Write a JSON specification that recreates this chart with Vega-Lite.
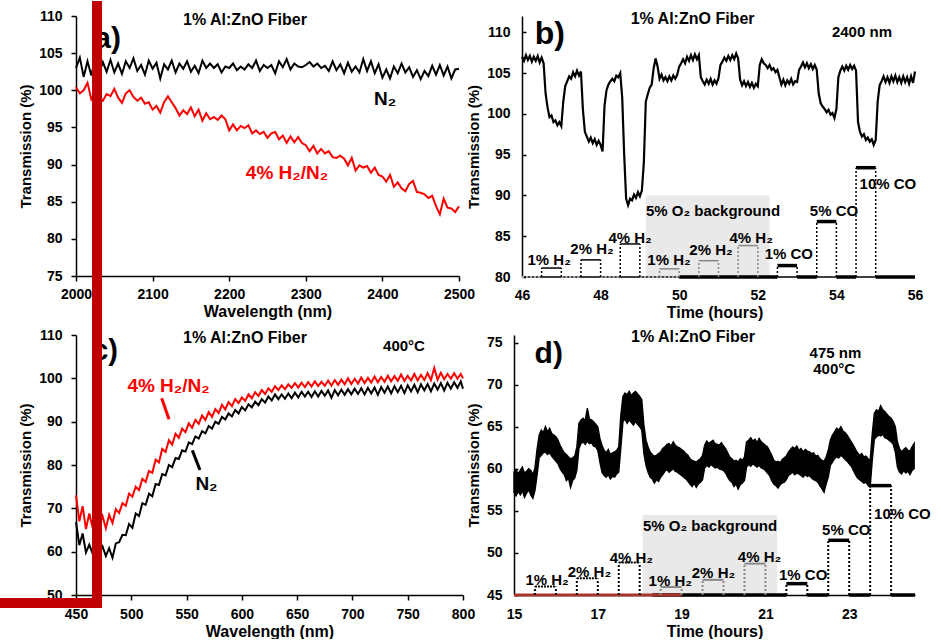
{
"$schema":"https://vega.github.io/schema/vega-lite/v6.json",
"background":"white",
"padding":0,
"columns":2,
"align":"each",
"bounds":"flush",
"spacing":{"row":58,"column":51},
"config":{
 "view":{"stroke":null},
 "font":"Liberation Sans",
 "axis":{"grid":false,"domainColor":"#000","domainWidth":1.5,"tickColor":"#000","tickWidth":1.5,"labelColor":"#000","labelFont":"Liberation Sans","labelFontSize":14,"labelFontWeight":"bold","titleColor":"#000","titleFont":"Liberation Sans","titleFontSize":15,"titleFontWeight":"bold","labelFlush":false,"labelOverlap":false},
 "text":{"font":"Liberation Sans","fontWeight":"bold","color":"#000"}
},
"datasets":{
"da":[
{"w":2000,"n":103.0,"h":100.4},{"w":2005,"n":104.4,"h":99.6},{"w":2010,"n":101.8,"h":100.0},{"w":2015,"n":103.9,"h":101.0},{"w":2020,"n":102.0,"h":98.8},{"w":2025,"n":104.2,"h":99.8},{"w":2030,"n":102.3,"h":99.0},{"w":2035,"n":103.8,"h":98.6},{"w":2040,"n":102.5,"h":99.5},{"w":2045,"n":104.1,"h":99.2},
{"w":2050,"n":102.4,"h":100.2},{"w":2055,"n":103.6,"h":99.0},{"w":2060,"n":102.2,"h":98.3},{"w":2065,"n":103.9,"h":99.6},{"w":2070,"n":103.0,"h":100.0},{"w":2075,"n":104.3,"h":99.1},{"w":2080,"n":102.6,"h":98.6},{"w":2085,"n":103.4,"h":99.0},{"w":2090,"n":102.1,"h":98.2},{"w":2095,"n":104.0,"h":98.4},
{"w":2100,"n":102.9,"h":97.4},{"w":2105,"n":103.7,"h":97.9},{"w":2110,"n":101.6,"h":97.0},{"w":2115,"n":103.5,"h":98.4},{"w":2120,"n":102.8,"h":99.2},{"w":2125,"n":104.0,"h":98.4},{"w":2130,"n":102.4,"h":97.6},{"w":2135,"n":103.6,"h":96.6},{"w":2140,"n":102.9,"h":97.3},{"w":2145,"n":103.9,"h":96.8},
{"w":2150,"n":102.5,"h":97.7},{"w":2155,"n":103.3,"h":96.5},{"w":2160,"n":102.3,"h":97.4},{"w":2165,"n":104.0,"h":95.9},{"w":2170,"n":103.0,"h":96.9},{"w":2175,"n":103.6,"h":96.1},{"w":2180,"n":103.0,"h":96.4},{"w":2185,"n":103.5,"h":96.0},{"w":2190,"n":102.4,"h":96.6},{"w":2195,"n":103.2,"h":96.1},
{"w":2200,"n":103.0,"h":94.6},{"w":2205,"n":103.6,"h":95.4},{"w":2210,"n":102.7,"h":94.6},{"w":2215,"n":103.2,"h":95.2},{"w":2220,"n":102.8,"h":94.9},{"w":2225,"n":103.5,"h":95.3},{"w":2230,"n":103.0,"h":94.2},{"w":2235,"n":104.0,"h":94.6},{"w":2240,"n":102.6,"h":94.1},{"w":2245,"n":103.4,"h":94.4},
{"w":2250,"n":103.0,"h":93.6},{"w":2255,"n":103.4,"h":94.2},{"w":2260,"n":102.3,"h":94.4},{"w":2265,"n":103.9,"h":93.4},{"w":2270,"n":103.1,"h":93.9},{"w":2275,"n":104.2,"h":92.9},{"w":2280,"n":102.8,"h":93.8},{"w":2285,"n":103.6,"h":93.0},{"w":2290,"n":103.2,"h":93.7},{"w":2295,"n":103.1,"h":92.9},
{"w":2300,"n":103.4,"h":92.6},{"w":2305,"n":103.8,"h":91.8},{"w":2310,"n":103.2,"h":92.5},{"w":2315,"n":103.6,"h":91.5},{"w":2320,"n":103.0,"h":92.1},{"w":2325,"n":103.3,"h":91.5},{"w":2330,"n":102.6,"h":91.8},{"w":2335,"n":103.9,"h":91.0},{"w":2340,"n":102.7,"h":90.9},{"w":2345,"n":103.5,"h":91.2},
{"w":2350,"n":102.3,"h":90.8},{"w":2355,"n":103.7,"h":89.9},{"w":2360,"n":102.5,"h":90.9},{"w":2365,"n":103.2,"h":89.2},{"w":2370,"n":102.4,"h":89.9},{"w":2375,"n":104.2,"h":89.6},{"w":2380,"n":102.6,"h":89.8},{"w":2385,"n":103.9,"h":88.9},{"w":2390,"n":102.3,"h":89.6},{"w":2395,"n":103.5,"h":88.6},
{"w":2400,"n":101.7,"h":88.4},{"w":2405,"n":102.8,"h":87.7},{"w":2410,"n":101.6,"h":88.6},{"w":2415,"n":103.2,"h":87.0},{"w":2420,"n":102.3,"h":87.6},{"w":2425,"n":103.6,"h":86.8},{"w":2430,"n":102.4,"h":86.4},{"w":2435,"n":103.1,"h":87.4},{"w":2440,"n":101.8,"h":87.8},{"w":2445,"n":102.7,"h":86.3},
{"w":2450,"n":101.5,"h":86.2},{"w":2455,"n":102.6,"h":86.0},{"w":2460,"n":101.9,"h":85.5},{"w":2465,"n":103.3,"h":85.8},{"w":2470,"n":102.1,"h":84.4},{"w":2475,"n":103.4,"h":83.3},{"w":2480,"n":102.0,"h":85.4},{"w":2485,"n":103.2,"h":84.2},{"w":2490,"n":101.6,"h":84.1},{"w":2495,"n":102.8,"h":83.6},{"w":2500,"n":102.9,"h":84.4}
],
"db":[
{"t":46.00,"v":107.0},{"t":46.05,"v":106.5},{"t":46.10,"v":107.2},{"t":46.15,"v":106.6},{"t":46.20,"v":107.1},{"t":46.25,"v":106.4},{"t":46.30,"v":107.0},{"t":46.35,"v":106.5},{"t":46.40,"v":107.1},{"t":46.45,"v":106.3},
{"t":46.50,"v":106.9},{"t":46.55,"v":106.2},{"t":46.60,"v":102.5},{"t":46.65,"v":100.8},{"t":46.70,"v":99.6},{"t":46.75,"v":99.8},{"t":46.80,"v":99.0},{"t":46.85,"v":99.2},{"t":46.90,"v":98.6},{"t":46.95,"v":99.0},
{"t":47.00,"v":98.5},{"t":47.05,"v":101.5},{"t":47.10,"v":103.4},{"t":47.15,"v":104.0},{"t":47.20,"v":104.6},{"t":47.25,"v":104.3},{"t":47.30,"v":105.1},{"t":47.35,"v":104.6},{"t":47.40,"v":105.3},{"t":47.45,"v":104.7},
{"t":47.50,"v":105.2},{"t":47.55,"v":100.5},{"t":47.60,"v":97.8},{"t":47.65,"v":97.2},{"t":47.70,"v":96.6},{"t":47.75,"v":97.1},{"t":47.80,"v":96.4},{"t":47.85,"v":96.9},{"t":47.90,"v":96.2},{"t":47.95,"v":96.7},
{"t":48.00,"v":96.2},{"t":48.05,"v":95.4},{"t":48.10,"v":101.0},{"t":48.15,"v":102.9},{"t":48.20,"v":103.6},{"t":48.25,"v":104.0},{"t":48.30,"v":104.3},{"t":48.35,"v":104.0},{"t":48.40,"v":104.7},{"t":48.45,"v":104.5},
{"t":48.50,"v":105.0},{"t":48.55,"v":102.0},{"t":48.60,"v":95.0},{"t":48.65,"v":89.6},{"t":48.70,"v":88.8},{"t":48.75,"v":89.6},{"t":48.80,"v":89.4},{"t":48.85,"v":90.1},{"t":48.90,"v":89.7},{"t":48.95,"v":90.4},
{"t":49.00,"v":89.9},{"t":49.05,"v":90.6},{"t":49.10,"v":94.0},{"t":49.15,"v":101.5},{"t":49.20,"v":102.4},{"t":49.25,"v":103.2},{"t":49.30,"v":103.6},{"t":49.35,"v":105.6},{"t":49.40,"v":106.8},{"t":49.45,"v":105.8},
{"t":49.50,"v":104.3},{"t":49.55,"v":104.8},{"t":49.60,"v":104.1},{"t":49.65,"v":104.5},{"t":49.70,"v":104.0},{"t":49.75,"v":104.6},{"t":49.80,"v":104.1},{"t":49.85,"v":104.7},{"t":49.90,"v":104.3},{"t":49.95,"v":104.8},
{"t":50.00,"v":105.8},{"t":50.05,"v":106.2},{"t":50.10,"v":106.7},{"t":50.15,"v":106.2},{"t":50.20,"v":107.0},{"t":50.25,"v":106.5},{"t":50.30,"v":107.2},{"t":50.35,"v":106.6},{"t":50.40,"v":107.3},{"t":50.45,"v":106.7},
{"t":50.50,"v":107.2},{"t":50.55,"v":104.5},{"t":50.60,"v":104.0},{"t":50.65,"v":103.6},{"t":50.70,"v":104.2},{"t":50.75,"v":103.7},{"t":50.80,"v":104.3},{"t":50.85,"v":103.6},{"t":50.90,"v":104.1},{"t":50.95,"v":103.7},
{"t":51.00,"v":104.4},{"t":51.05,"v":106.0},{"t":51.10,"v":106.4},{"t":51.15,"v":106.9},{"t":51.20,"v":106.5},{"t":51.25,"v":107.1},{"t":51.30,"v":106.6},{"t":51.35,"v":107.2},{"t":51.40,"v":106.7},{"t":51.45,"v":107.4},
{"t":51.50,"v":106.8},{"t":51.55,"v":104.2},{"t":51.60,"v":103.5},{"t":51.65,"v":104.0},{"t":51.70,"v":103.4},{"t":51.75,"v":103.9},{"t":51.80,"v":103.3},{"t":51.85,"v":103.8},{"t":51.90,"v":103.2},{"t":51.95,"v":103.7},
{"t":52.00,"v":103.4},{"t":52.05,"v":106.0},{"t":52.10,"v":106.7},{"t":52.15,"v":106.2},{"t":52.20,"v":106.0},{"t":52.25,"v":105.6},{"t":52.30,"v":106.0},{"t":52.35,"v":105.4},{"t":52.40,"v":105.6},{"t":52.45,"v":105.1},
{"t":52.50,"v":105.4},{"t":52.55,"v":104.5},{"t":52.60,"v":103.6},{"t":52.65,"v":104.2},{"t":52.70,"v":103.5},{"t":52.75,"v":104.1},{"t":52.80,"v":103.7},{"t":52.85,"v":104.3},{"t":52.90,"v":103.6},{"t":52.95,"v":104.0},
{"t":53.00,"v":103.9},{"t":53.05,"v":105.4},{"t":53.10,"v":105.8},{"t":53.15,"v":106.3},{"t":53.20,"v":105.7},{"t":53.25,"v":106.2},{"t":53.30,"v":105.6},{"t":53.35,"v":106.1},{"t":53.40,"v":105.5},{"t":53.45,"v":106.0},
{"t":53.50,"v":105.4},{"t":53.55,"v":102.5},{"t":53.60,"v":101.3},{"t":53.65,"v":100.9},{"t":53.70,"v":100.6},{"t":53.75,"v":100.2},{"t":53.80,"v":100.5},{"t":53.85,"v":99.9},{"t":53.90,"v":100.1},{"t":53.95,"v":99.5},
{"t":54.00,"v":100.6},{"t":54.05,"v":104.5},{"t":54.10,"v":105.3},{"t":54.15,"v":105.8},{"t":54.20,"v":105.3},{"t":54.25,"v":105.9},{"t":54.30,"v":105.4},{"t":54.35,"v":106.0},{"t":54.40,"v":105.5},{"t":54.45,"v":105.9},
{"t":54.50,"v":105.3},{"t":54.55,"v":99.0},{"t":54.60,"v":97.8},{"t":54.65,"v":97.2},{"t":54.70,"v":97.5},{"t":54.75,"v":96.8},{"t":54.80,"v":97.1},{"t":54.85,"v":96.6},{"t":54.90,"v":96.9},{"t":54.95,"v":96.2},
{"t":55.00,"v":96.8},{"t":55.05,"v":101.5},{"t":55.10,"v":103.5},{"t":55.15,"v":104.0},{"t":55.20,"v":104.6},{"t":55.25,"v":103.9},{"t":55.30,"v":104.5},{"t":55.35,"v":103.8},{"t":55.40,"v":104.6},{"t":55.45,"v":104.0},
{"t":55.50,"v":104.7},{"t":55.55,"v":103.9},{"t":55.60,"v":104.5},{"t":55.65,"v":103.8},{"t":55.70,"v":104.6},{"t":55.75,"v":103.9},{"t":55.80,"v":104.5},{"t":55.85,"v":103.7},{"t":55.90,"v":104.6},{"t":55.95,"v":103.8},{"t":56.00,"v":105.2}
],
"dc":[
{"w":450,"n":66.8,"h":73.0},{"w":453,"n":61.5,"h":67.0},{"w":456,"n":64.2,"h":70.5},{"w":459,"n":59.8,"h":65.2},{"w":462,"n":61.6,"h":68.8},{"w":465,"n":59.6,"h":65.6},{"w":468,"n":62.0,"h":72.6},{"w":471,"n":59.8,"h":66.0},{"w":474,"n":61.2,"h":68.2},{"w":477,"n":59.0,"h":65.4},
{"w":480,"n":60.8,"h":68.5},{"w":483,"n":58.6,"h":66.6},{"w":486,"n":61.9,"h":69.8},{"w":489,"n":62.2,"h":68.9},{"w":492,"n":63.9,"h":71.2},{"w":495,"n":63.8,"h":70.6},{"w":498,"n":66.4,"h":73.4},{"w":501,"n":65.5,"h":72.7},{"w":504,"n":68.8,"h":75.0},{"w":507,"n":68.2,"h":74.2},
{"w":510,"n":71.2,"h":76.8},{"w":513,"n":70.8,"h":76.1},{"w":516,"n":73.4,"h":78.6},{"w":519,"n":72.8,"h":78.2},{"w":522,"n":75.6,"h":81.2},{"w":525,"n":75.4,"h":80.6},{"w":528,"n":77.9,"h":83.7},{"w":531,"n":77.6,"h":83.0},{"w":534,"n":80.0,"h":85.7},{"w":537,"n":79.5,"h":84.7},
{"w":540,"n":81.6,"h":87.2},{"w":543,"n":81.4,"h":86.3},{"w":546,"n":83.4,"h":88.4},{"w":549,"n":83.1,"h":87.6},{"w":552,"n":85.2,"h":89.6},{"w":555,"n":84.8,"h":88.6},{"w":558,"n":86.6,"h":90.4},{"w":561,"n":86.1,"h":89.5},{"w":564,"n":87.8,"h":91.4},{"w":567,"n":87.3,"h":90.4},
{"w":570,"n":89.0,"h":92.2},{"w":573,"n":88.4,"h":91.1},{"w":576,"n":90.0,"h":92.9},{"w":579,"n":89.5,"h":92.0},{"w":582,"n":91.1,"h":93.9},{"w":585,"n":90.5,"h":92.8},{"w":588,"n":91.9,"h":94.5},{"w":591,"n":91.2,"h":93.6},{"w":594,"n":92.7,"h":95.2},{"w":597,"n":91.9,"h":94.3},
{"w":600,"n":93.4,"h":95.6},{"w":603,"n":92.6,"h":94.8},{"w":606,"n":94.0,"h":96.3},{"w":609,"n":93.3,"h":95.4},{"w":612,"n":94.6,"h":96.8},{"w":615,"n":93.8,"h":95.9},{"w":618,"n":95.2,"h":97.3},{"w":621,"n":94.4,"h":96.4},{"w":624,"n":95.8,"h":97.7},{"w":627,"n":94.9,"h":96.9},
{"w":630,"n":96.3,"h":98.2},{"w":633,"n":95.2,"h":97.3},{"w":636,"n":96.3,"h":98.4},{"w":639,"n":95.3,"h":97.5},{"w":642,"n":96.5,"h":98.6},{"w":645,"n":95.4,"h":97.8},{"w":648,"n":96.7,"h":98.9},{"w":651,"n":95.6,"h":97.9},{"w":654,"n":96.9,"h":99.0},{"w":657,"n":95.8,"h":98.0},
{"w":660,"n":96.9,"h":99.1},{"w":663,"n":95.7,"h":98.1},{"w":666,"n":97.0,"h":99.3},{"w":669,"n":95.8,"h":98.2},{"w":672,"n":97.1,"h":99.2},{"w":675,"n":96.0,"h":98.3},{"w":678,"n":97.2,"h":99.5},{"w":681,"n":95.5,"h":98.3},{"w":684,"n":97.3,"h":99.6},{"w":687,"n":96.1,"h":98.5},
{"w":690,"n":97.4,"h":99.7},{"w":693,"n":96.2,"h":98.6},{"w":696,"n":97.5,"h":100.0},{"w":699,"n":96.3,"h":98.7},{"w":702,"n":97.6,"h":99.9},{"w":705,"n":96.4,"h":98.8},{"w":708,"n":97.7,"h":100.2},{"w":711,"n":96.3,"h":98.9},{"w":714,"n":97.8,"h":100.1},{"w":717,"n":96.5,"h":99.0},
{"w":720,"n":97.9,"h":100.4},{"w":723,"n":96.2,"h":99.1},{"w":726,"n":98.0,"h":100.3},{"w":729,"n":96.7,"h":99.2},{"w":732,"n":98.1,"h":100.6},{"w":735,"n":96.5,"h":99.3},{"w":738,"n":98.2,"h":100.5},{"w":741,"n":96.8,"h":99.4},{"w":744,"n":98.3,"h":100.9},{"w":747,"n":96.6,"h":99.4},
{"w":750,"n":98.4,"h":100.6},{"w":753,"n":97.0,"h":99.5},{"w":756,"n":98.5,"h":101.0},{"w":759,"n":96.8,"h":99.5},{"w":762,"n":98.6,"h":100.8},{"w":765,"n":97.2,"h":99.6},{"w":768,"n":98.7,"h":101.2},{"w":771,"n":97.0,"h":99.6},{"w":774,"n":98.8,"h":102.4},{"w":777,"n":97.4,"h":99.7},
{"w":780,"n":98.9,"h":101.3},{"w":783,"n":97.2,"h":99.8},{"w":786,"n":99.0,"h":101.0},{"w":789,"n":97.6,"h":99.9},{"w":792,"n":99.1,"h":101.2},{"w":795,"n":97.8,"h":99.9},{"w":798,"n":99.3,"h":101.0},{"w":800,"n":97.6,"h":100.0}
],
"dd":[
{"t":15.00,"lo":57.2,"hi":59.6},{"t":15.05,"lo":56.8,"hi":59.9},{"t":15.10,"lo":57.3,"hi":59.4},{"t":15.15,"lo":56.9,"hi":59.8},{"t":15.20,"lo":57.4,"hi":60.2},{"t":15.25,"lo":56.6,"hi":59.5},{"t":15.30,"lo":57.1,"hi":59.7},{"t":15.35,"lo":57.5,"hi":60.0},{"t":15.40,"lo":56.9,"hi":59.8},{"t":15.45,"lo":56.5,"hi":59.3},
{"t":15.50,"lo":57.4,"hi":60.1},{"t":15.55,"lo":59.2,"hi":62.3},{"t":15.60,"lo":61.3,"hi":64.0},{"t":15.65,"lo":61.6,"hi":64.6},{"t":15.70,"lo":61.9,"hi":64.3},{"t":15.75,"lo":62.0,"hi":65.0},{"t":15.80,"lo":61.7,"hi":64.4},{"t":15.85,"lo":61.9,"hi":64.8},{"t":15.90,"lo":61.5,"hi":64.2},{"t":15.95,"lo":61.2,"hi":64.0},
{"t":16.00,"lo":60.9,"hi":63.8},{"t":16.05,"lo":60.6,"hi":63.4},{"t":16.10,"lo":60.0,"hi":62.8},{"t":16.15,"lo":59.6,"hi":62.3},{"t":16.20,"lo":59.3,"hi":61.9},{"t":16.25,"lo":58.6,"hi":61.7},{"t":16.30,"lo":58.9,"hi":61.4},{"t":16.35,"lo":57.8,"hi":61.2},{"t":16.40,"lo":58.6,"hi":61.3},{"t":16.45,"lo":58.9,"hi":61.5},
{"t":16.50,"lo":59.8,"hi":62.6},{"t":16.55,"lo":62.4,"hi":65.4},{"t":16.60,"lo":63.0,"hi":65.8},{"t":16.65,"lo":63.2,"hi":66.0},{"t":16.70,"lo":62.9,"hi":65.7},{"t":16.75,"lo":63.3,"hi":67.2},{"t":16.80,"lo":63.0,"hi":65.9},{"t":16.85,"lo":63.1,"hi":65.8},{"t":16.90,"lo":62.7,"hi":65.6},{"t":16.95,"lo":62.6,"hi":65.3},
{"t":17.00,"lo":62.2,"hi":65.0},{"t":17.05,"lo":60.8,"hi":63.6},{"t":17.10,"lo":59.6,"hi":62.8},{"t":17.15,"lo":59.2,"hi":62.2},{"t":17.20,"lo":59.0,"hi":61.9},{"t":17.25,"lo":59.3,"hi":62.3},{"t":17.30,"lo":58.8,"hi":61.7},{"t":17.35,"lo":59.1,"hi":61.9},{"t":17.40,"lo":59.0,"hi":62.0},{"t":17.45,"lo":59.4,"hi":62.2},
{"t":17.50,"lo":59.6,"hi":62.6},{"t":17.55,"lo":62.5,"hi":66.4},{"t":17.60,"lo":65.6,"hi":68.6},{"t":17.65,"lo":65.9,"hi":69.0},{"t":17.70,"lo":65.4,"hi":68.8},{"t":17.75,"lo":65.8,"hi":69.2},{"t":17.80,"lo":65.5,"hi":68.7},{"t":17.85,"lo":65.2,"hi":69.0},{"t":17.90,"lo":65.6,"hi":69.2},{"t":17.95,"lo":65.3,"hi":68.9},
{"t":18.00,"lo":65.0,"hi":68.6},{"t":18.05,"lo":64.6,"hi":68.2},{"t":18.10,"lo":61.8,"hi":65.2},{"t":18.15,"lo":60.4,"hi":63.4},{"t":18.20,"lo":59.6,"hi":62.6},{"t":18.25,"lo":59.0,"hi":62.0},{"t":18.30,"lo":58.8,"hi":61.7},{"t":18.35,"lo":58.3,"hi":61.5},{"t":18.40,"lo":58.7,"hi":61.6},{"t":18.45,"lo":58.5,"hi":61.8},
{"t":18.50,"lo":59.0,"hi":62.0},{"t":18.55,"lo":59.3,"hi":62.4},{"t":18.60,"lo":59.7,"hi":62.6},{"t":18.65,"lo":59.9,"hi":62.9},{"t":18.70,"lo":59.6,"hi":63.0},{"t":18.75,"lo":59.8,"hi":62.7},{"t":18.80,"lo":60.0,"hi":63.2},{"t":18.85,"lo":59.7,"hi":62.8},{"t":18.90,"lo":59.6,"hi":62.6},{"t":18.95,"lo":59.4,"hi":62.5},
{"t":19.00,"lo":59.2,"hi":62.3},{"t":19.05,"lo":59.0,"hi":62.1},{"t":19.10,"lo":58.8,"hi":61.8},{"t":19.15,"lo":58.5,"hi":61.6},{"t":19.20,"lo":58.2,"hi":61.2},{"t":19.25,"lo":57.9,"hi":61.0},{"t":19.30,"lo":58.3,"hi":60.9},{"t":19.35,"lo":57.8,"hi":60.8},{"t":19.40,"lo":58.2,"hi":61.0},{"t":19.45,"lo":58.4,"hi":61.2},
{"t":19.50,"lo":58.7,"hi":61.6},{"t":19.55,"lo":60.1,"hi":62.8},{"t":19.60,"lo":60.4,"hi":63.3},{"t":19.65,"lo":60.2,"hi":63.0},{"t":19.70,"lo":60.5,"hi":63.2},{"t":19.75,"lo":60.3,"hi":63.4},{"t":19.80,"lo":60.1,"hi":63.0},{"t":19.85,"lo":60.2,"hi":62.9},{"t":19.90,"lo":60.0,"hi":62.8},{"t":19.95,"lo":59.9,"hi":63.1},
{"t":20.00,"lo":59.8,"hi":62.7},{"t":20.05,"lo":59.5,"hi":62.4},{"t":20.10,"lo":59.0,"hi":61.9},{"t":20.15,"lo":58.6,"hi":61.4},{"t":20.20,"lo":58.4,"hi":61.2},{"t":20.25,"lo":57.9,"hi":60.9},{"t":20.30,"lo":58.2,"hi":61.0},{"t":20.35,"lo":57.6,"hi":60.8},{"t":20.40,"lo":58.1,"hi":61.2},{"t":20.45,"lo":58.3,"hi":61.0},
{"t":20.50,"lo":58.6,"hi":61.4},{"t":20.55,"lo":60.2,"hi":63.2},{"t":20.60,"lo":60.5,"hi":63.4},{"t":20.65,"lo":60.3,"hi":63.7},{"t":20.70,"lo":60.6,"hi":63.3},{"t":20.75,"lo":60.4,"hi":63.5},{"t":20.80,"lo":60.2,"hi":63.1},{"t":20.85,"lo":60.4,"hi":63.6},{"t":20.90,"lo":60.1,"hi":63.2},{"t":20.95,"lo":60.0,"hi":63.0},
{"t":21.00,"lo":59.8,"hi":62.8},{"t":21.05,"lo":59.5,"hi":62.6},{"t":21.10,"lo":59.2,"hi":62.1},{"t":21.15,"lo":58.6,"hi":61.6},{"t":21.20,"lo":58.2,"hi":61.0},{"t":21.25,"lo":58.0,"hi":60.8},{"t":21.30,"lo":57.7,"hi":60.9},{"t":21.35,"lo":58.1,"hi":60.7},{"t":21.40,"lo":58.3,"hi":61.1},{"t":21.45,"lo":58.4,"hi":61.3},
{"t":21.50,"lo":58.7,"hi":61.5},{"t":21.55,"lo":59.2,"hi":62.0},{"t":21.60,"lo":59.4,"hi":62.3},{"t":21.65,"lo":59.6,"hi":62.6},{"t":21.70,"lo":59.3,"hi":62.4},{"t":21.75,"lo":59.5,"hi":62.7},{"t":21.80,"lo":59.4,"hi":62.2},{"t":21.85,"lo":59.2,"hi":62.4},{"t":21.90,"lo":59.0,"hi":62.0},{"t":21.95,"lo":59.3,"hi":62.3},
{"t":22.00,"lo":59.1,"hi":62.1},{"t":22.05,"lo":59.2,"hi":62.0},{"t":22.10,"lo":58.9,"hi":61.8},{"t":22.15,"lo":58.7,"hi":61.9},{"t":22.20,"lo":58.6,"hi":61.5},{"t":22.25,"lo":58.4,"hi":61.6},{"t":22.30,"lo":58.0,"hi":61.2},{"t":22.35,"lo":57.6,"hi":61.0},{"t":22.40,"lo":57.2,"hi":60.9},{"t":22.45,"lo":58.2,"hi":61.4},
{"t":22.50,"lo":59.0,"hi":62.2},{"t":22.55,"lo":60.4,"hi":63.4},{"t":22.60,"lo":60.8,"hi":64.0},{"t":22.65,"lo":61.2,"hi":64.4},{"t":22.70,"lo":61.4,"hi":64.8},{"t":22.75,"lo":61.3,"hi":64.6},{"t":22.80,"lo":61.6,"hi":65.0},{"t":22.85,"lo":61.4,"hi":64.5},{"t":22.90,"lo":61.1,"hi":64.3},{"t":22.95,"lo":60.9,"hi":64.0},
{"t":23.00,"lo":60.6,"hi":63.6},{"t":23.05,"lo":60.3,"hi":63.2},{"t":23.10,"lo":59.8,"hi":62.8},{"t":23.15,"lo":59.3,"hi":62.3},{"t":23.20,"lo":58.9,"hi":61.9},{"t":23.25,"lo":58.7,"hi":61.6},{"t":23.30,"lo":58.5,"hi":61.8},{"t":23.35,"lo":58.3,"hi":61.4},{"t":23.40,"lo":58.4,"hi":61.5},{"t":23.45,"lo":58.0,"hi":61.2},
{"t":23.50,"lo":57.8,"hi":61.0},{"t":23.55,"lo":61.0,"hi":64.2},{"t":23.60,"lo":63.5,"hi":66.6},{"t":23.65,"lo":63.8,"hi":67.0},{"t":23.70,"lo":64.0,"hi":66.8},{"t":23.75,"lo":63.9,"hi":67.5},{"t":23.80,"lo":64.1,"hi":67.0},{"t":23.85,"lo":63.7,"hi":66.8},{"t":23.90,"lo":63.6,"hi":66.5},{"t":23.95,"lo":63.4,"hi":66.2},
{"t":24.00,"lo":63.2,"hi":66.0},{"t":24.05,"lo":62.9,"hi":65.6},{"t":24.10,"lo":62.0,"hi":65.0},{"t":24.15,"lo":60.2,"hi":63.2},{"t":24.20,"lo":59.6,"hi":62.4},{"t":24.25,"lo":59.4,"hi":62.0},{"t":24.30,"lo":59.8,"hi":62.3},{"t":24.35,"lo":59.5,"hi":62.5},{"t":24.40,"lo":59.7,"hi":62.2},{"t":24.45,"lo":59.3,"hi":62.1},{"t":24.50,"lo":59.8,"hi":62.6},{"t":24.55,"lo":60.0,"hi":63.0}
]
},
"concat":[
{"width":383,"height":260,"layer":[
 {"data":{"name":"da"},"mark":{"type":"line","color":"#000","strokeWidth":2},
  "encoding":{
   "x":{"field":"w","type":"quantitative","scale":{"domain":[2000,2500],"nice":false,"zero":false},"axis":{"title":"Wavelength (nm)","values":[2000,2100,2200,2300,2400,2500],"format":"d","tickSize":5,"labelPadding":6,"titlePadding":2,"titleFontSize":16,"labelOverlap":false}},
   "y":{"field":"n","type":"quantitative","scale":{"domain":[75,110],"nice":false,"zero":false},"axis":{"title":"Transmission (%)","values":[75,80,85,90,95,100,105,110],"format":"d","tickSize":5,"labelPadding":9,"titlePadding":5,"labelOverlap":false,"tickCount":20}}}},
 {"data":{"name":"da"},"mark":{"type":"line","color":"#ff0000","strokeWidth":2},"encoding":{"x":{"field":"w","type":"quantitative"},"y":{"field":"h","type":"quantitative"}}},
 {"data":{"values":[{"x":2220.6,"y":109.46,"t":"1% Al:ZnO Fiber"}]},"mark":{"type":"text","fontSize":16,"baseline":"middle"},"encoding":{"x":{"field":"x","type":"quantitative"},"y":{"field":"y","type":"quantitative"},"text":{"field":"t"}}},
 {"data":{"values":[{"x":2403.4,"y":98.8,"t":"N₂"}]},"mark":{"type":"text","fontSize":19,"baseline":"middle"},"encoding":{"x":{"field":"x","type":"quantitative"},"y":{"field":"y","type":"quantitative"},"text":{"field":"t"}}},
 {"data":{"values":[{"x":2275.5,"y":88.9,"t":"4% H₂/N₂"}]},"mark":{"type":"text","fontSize":19,"baseline":"middle","color":"#ff0000"},"encoding":{"x":{"field":"x","type":"quantitative"},"y":{"field":"y","type":"quantitative"},"text":{"field":"t"}}},
 {"data":{"values":[{"x":2041.4,"y":105.73,"t":"a)"}]},"mark":{"type":"text","fontSize":30,"baseline":"alphabetic"},"encoding":{"x":{"field":"x","type":"quantitative"},"y":{"field":"y","type":"quantitative"},"text":{"field":"t"}}}
]},
{"width":401,"height":261,"layer":[
 {"data":{"values":[{"x":49.15,"x2":52.3,"y":80,"y2":90}]},"mark":{"type":"rect","color":"#e9e9e9"},
  "encoding":{
   "x":{"field":"x","type":"quantitative","scale":{"domain":[45.7964,56],"nice":false,"zero":false},"axis":{"title":"Time (hours)","values":[46,48,50,52,54,56],"format":"d","domain":false,"ticks":false,"labelPadding":11,"titlePadding":2,"titleFontSize":16,"labelOverlap":false}},
   "x2":{"field":"x2"},
   "y":{"field":"y","type":"quantitative","scale":{"domain":[80,112],"nice":false,"zero":false},"axis":{"title":"Transmission (%)","values":[80,85,90,95,100,105,110],"format":"d","offset":-8,"tickSize":-4,"labelPadding":16,"titlePadding":5,"labelOverlap":false}},
   "y2":{"field":"y2"}}},
 {"data":{"values":[{"x":46,"x2":56,"y":80}]},"mark":{"type":"rule","color":"#000","strokeWidth":1.5},"encoding":{"x":{"field":"x","type":"quantitative"},"x2":{"field":"x2"},"y":{"field":"y","type":"quantitative"}}},
 {"data":{"name":"db"},"mark":{"type":"line","color":"#000","strokeWidth":2.2},"encoding":{"x":{"field":"t","type":"quantitative"},"y":{"field":"v","type":"quantitative"}}},
 {"data":{"values":[{"x":46,"x2":46.5,"y":80},{"x":47,"x2":47.5,"y":80},{"x":48,"x2":48.5,"y":80},{"x":49,"x2":50,"y":80}]},"mark":{"type":"rule","color":"#aaaaaa","strokeWidth":2,"strokeDash":[2,2]},"encoding":{"x":{"field":"x","type":"quantitative"},"x2":{"field":"x2"},"y":{"field":"y","type":"quantitative"}}},
 {"data":{"values":[{"x":46.5,"x2":47.0,"y":81.1},{"x":47.5,"x2":48.0,"y":82.1},{"x":48.5,"x2":49.0,"y":84.05}]},"mark":{"type":"rule","color":"#000","strokeWidth":1.5},"encoding":{"x":{"field":"x","type":"quantitative"},"x2":{"field":"x2"},"y":{"field":"y","type":"quantitative"}}},
 {"data":{"values":[{"x":49.5,"x2":50.0,"y":81.0},{"x":50.5,"x2":51.0,"y":82.0},{"x":51.5,"x2":52.0,"y":83.85}]},"mark":{"type":"rule","color":"#888888","strokeWidth":1.5},"encoding":{"x":{"field":"x","type":"quantitative"},"x2":{"field":"x2"},"y":{"field":"y","type":"quantitative"}}},
 {"data":{"values":[{"x":50.0,"x2":52.5,"y":80},{"x":52.5,"x2":53.0,"y":81.4},{"x":53.0,"x2":53.5,"y":80},{"x":53.5,"x2":54.0,"y":86.8},{"x":54.0,"x2":54.5,"y":80},{"x":54.5,"x2":55.0,"y":93.4},{"x":55.0,"x2":56.0,"y":80}]},"mark":{"type":"rule","color":"#000","strokeWidth":3.5},"encoding":{"x":{"field":"x","type":"quantitative"},"x2":{"field":"x2"},"y":{"field":"y","type":"quantitative"}}},
 {"data":{"values":[{"x":46.5,"y":80,"y2":81.1},{"x":47.0,"y":80,"y2":81.1},{"x":47.5,"y":80,"y2":82.1},{"x":48.0,"y":80,"y2":82.1},{"x":48.5,"y":80,"y2":84.05},{"x":49.0,"y":80,"y2":84.05},{"x":52.5,"y":80,"y2":81.4},{"x":53.0,"y":80,"y2":81.4},{"x":53.5,"y":80,"y2":86.8},{"x":54.0,"y":80,"y2":86.8},{"x":54.5,"y":80,"y2":93.4},{"x":55.0,"y":80,"y2":93.4}]},"mark":{"type":"rule","color":"#000","strokeWidth":1.5,"strokeDash":[2,2]},"encoding":{"x":{"field":"x","type":"quantitative"},"y":{"field":"y","type":"quantitative"},"y2":{"field":"y2"}}},
 {"data":{"values":[{"x":49.5,"y":80,"y2":81.0},{"x":50.0,"y":80,"y2":81.0},{"x":50.5,"y":80,"y2":82.0},{"x":51.0,"y":80,"y2":82.0},{"x":51.5,"y":80,"y2":83.85},{"x":52.0,"y":80,"y2":83.85}]},"mark":{"type":"rule","color":"#888888","strokeWidth":1.5,"strokeDash":[2,2]},"encoding":{"x":{"field":"x","type":"quantitative"},"y":{"field":"y","type":"quantitative"},"y2":{"field":"y2"}}},
 {"data":{"values":[{"x":46.69,"y":82.08,"t":"1% H₂"},{"x":47.78,"y":83.43,"t":"2% H₂"},{"x":48.75,"y":84.78,"t":"4% H₂"},{"x":49.74,"y":82.08,"t":"1% H₂"},{"x":50.81,"y":83.31,"t":"2% H₂"},{"x":51.83,"y":84.78,"t":"4% H₂"},{"x":52.79,"y":82.82,"t":"1% CO"},{"x":53.94,"y":88.09,"t":"5% CO"},{"x":55.31,"y":91.4,"t":"10% CO"},{"x":50.86,"y":88.09,"t":"5% O₂ background"},{"x":54.65,"y":110.04,"t":"2400 nm"}]},"mark":{"type":"text","fontSize":15,"baseline":"middle"},"encoding":{"x":{"field":"x","type":"quantitative"},"y":{"field":"y","type":"quantitative"},"text":{"field":"t"}}},
 {"data":{"values":[{"x":50.34,"y":111.6,"t":"1% Al:ZnO Fiber"}]},"mark":{"type":"text","fontSize":16,"baseline":"middle"},"encoding":{"x":{"field":"x","type":"quantitative"},"y":{"field":"y","type":"quantitative"},"text":{"field":"t"}}},
 {"data":{"values":[{"x":46.71,"y":108.53,"t":"b)"}]},"mark":{"type":"text","fontSize":32,"baseline":"alphabetic"},"encoding":{"x":{"field":"x","type":"quantitative"},"y":{"field":"y","type":"quantitative"},"text":{"field":"t"}}}
]},
{"width":387,"height":260,"layer":[
 {"data":{"name":"dc"},"mark":{"type":"line","color":"#000","strokeWidth":2},
  "encoding":{
   "x":{"field":"w","type":"quantitative","scale":{"domain":[450,800],"nice":false,"zero":false},"axis":{"title":"Wavelength (nm)","values":[450,500,550,600,650,700,750,800],"format":"d","tickSize":5,"labelPadding":7,"titlePadding":2,"titleFontSize":16,"labelOverlap":false}},
   "y":{"field":"n","type":"quantitative","scale":{"domain":[50,110],"nice":false,"zero":false},"axis":{"title":"Transmission (%)","values":[50,60,70,80,90,100,110],"format":"d","tickSize":5,"labelPadding":9,"titlePadding":5,"labelOverlap":false}}}},
 {"data":{"name":"dc"},"mark":{"type":"line","color":"#ff0000","strokeWidth":2},"encoding":{"x":{"field":"w","type":"quantitative"},"y":{"field":"h","type":"quantitative"}}},
 {"data":{"values":[{"x":527.5,"x2":534.1,"y":95.39,"y2":90.54}]},"mark":{"type":"rule","color":"#ff0000","strokeWidth":3},"encoding":{"x":{"field":"x","type":"quantitative"},"x2":{"field":"x2"},"y":{"field":"y","type":"quantitative"},"y2":{"field":"y2"}}},
 {"data":{"values":[{"x":555.2,"x2":562.1,"y":83.38,"y2":78.85}]},"mark":{"type":"rule","color":"#000","strokeWidth":3},"encoding":{"x":{"field":"x","type":"quantitative"},"x2":{"field":"x2"},"y":{"field":"y","type":"quantitative"},"y2":{"field":"y2"}}},
 {"data":{"values":[{"x":602.8,"y":109.4,"t":"1% Al:ZnO Fiber"}]},"mark":{"type":"text","fontSize":16,"baseline":"middle"},"encoding":{"x":{"field":"x","type":"quantitative"},"y":{"field":"y","type":"quantitative"},"text":{"field":"t"}}},
 {"data":{"values":[{"x":746.6,"y":107.46,"t":"400°C"}]},"mark":{"type":"text","fontSize":15,"baseline":"middle"},"encoding":{"x":{"field":"x","type":"quantitative"},"y":{"field":"y","type":"quantitative"},"text":{"field":"t"}}},
 {"data":{"values":[{"x":533.7,"y":98.2,"t":"4% H₂/N₂"}]},"mark":{"type":"text","fontSize":19,"baseline":"middle","color":"#ff0000"},"encoding":{"x":{"field":"x","type":"quantitative"},"y":{"field":"y","type":"quantitative"},"text":{"field":"t"}}},
 {"data":{"values":[{"x":568.0,"y":75.6,"t":"N₂"}]},"mark":{"type":"text","fontSize":19,"baseline":"middle"},"encoding":{"x":{"field":"x","type":"quantitative"},"y":{"field":"y","type":"quantitative"},"text":{"field":"t"}}},
 {"data":{"values":[{"x":476.3,"y":104.2,"t":"c)"}]},"mark":{"type":"text","fontSize":29,"baseline":"alphabetic"},"encoding":{"x":{"field":"x","type":"quantitative"},"y":{"field":"y","type":"quantitative"},"text":{"field":"t"}}},
 {"data":{"values":[{"x":464.47,"x2":473.51,"y":47.0,"y2":187.08},{"x":381.27,"x2":473.51,"y":47.0,"y2":49.31}]},"mark":{"type":"rect","color":"#c00000"},"encoding":{"x":{"field":"x","type":"quantitative"},"x2":{"field":"x2"},"y":{"field":"y","type":"quantitative"},"y2":{"field":"y2"}}}
]},
{"width":401,"height":260,"layer":[
 {"data":{"values":[{"x":18.07,"x2":21.28,"y":45,"y2":54.5}]},"mark":{"type":"rect","color":"#e9e9e9"},
  "encoding":{
   "x":{"field":"x","type":"quantitative","scale":{"domain":[15,24.57],"nice":false,"zero":false},"axis":{"title":"Time (hours)","values":[15,17,19,21,23],"format":"d","ticks":false,"labelPadding":12,"titlePadding":2,"titleFontSize":16,"labelOverlap":false}},
   "x2":{"field":"x2"},
   "y":{"field":"y","type":"quantitative","scale":{"domain":[45,75.9],"nice":false,"zero":false},"axis":{"title":"Transmission (%)","values":[45,50,55,60,65,70,75],"format":"d","tickSize":-4,"labelPadding":16,"titlePadding":5,"labelOverlap":false}},
   "y2":{"field":"y2"}}},
 {"data":{"name":"dd"},"mark":{"type":"area","color":"#000","stroke":"#000","strokeWidth":1.4},"encoding":{"x":{"field":"t","type":"quantitative"},"y":{"field":"lo","type":"quantitative"},"y2":{"field":"hi"}}},
 {"data":{"values":[{"x":18.3,"x2":21.5,"y":45},{"x":21.5,"x2":22.0,"y":46.35},{"x":22.0,"x2":22.5,"y":45},{"x":22.5,"x2":23.0,"y":51.5},{"x":23.0,"x2":23.5,"y":45},{"x":23.5,"x2":24.0,"y":58.0},{"x":24.0,"x2":24.57,"y":45}]},"mark":{"type":"rule","color":"#000","strokeWidth":3.5},"encoding":{"x":{"field":"x","type":"quantitative"},"x2":{"field":"x2"},"y":{"field":"y","type":"quantitative"}}},
 {"data":{"values":[{"x":15,"x2":19,"y":45}]},"mark":{"type":"rule","color":"#a8352b","strokeWidth":3},"encoding":{"x":{"field":"x","type":"quantitative"},"x2":{"field":"x2"},"y":{"field":"y","type":"quantitative"}}},
 {"data":{"values":[{"x":15.5,"x2":16.0,"y":46.0},{"x":16.5,"x2":17.0,"y":47.0},{"x":17.5,"x2":18.0,"y":48.85}]},"mark":{"type":"rule","color":"#000","strokeWidth":2,"strokeDash":[2,1]},"encoding":{"x":{"field":"x","type":"quantitative"},"x2":{"field":"x2"},"y":{"field":"y","type":"quantitative"}}},
 {"data":{"values":[{"x":18.5,"x2":19.0,"y":45.95},{"x":19.5,"x2":20.0,"y":46.8},{"x":20.5,"x2":21.0,"y":48.73}]},"mark":{"type":"rule","color":"#888888","strokeWidth":2},"encoding":{"x":{"field":"x","type":"quantitative"},"x2":{"field":"x2"},"y":{"field":"y","type":"quantitative"}}},
 {"data":{"values":[{"x":15.5,"y":45,"y2":46.0},{"x":16.0,"y":45,"y2":46.0},{"x":16.5,"y":45,"y2":47.0},{"x":17.0,"y":45,"y2":47.0},{"x":17.5,"y":45,"y2":48.85},{"x":18.0,"y":45,"y2":48.85},{"x":21.5,"y":45,"y2":46.35},{"x":22.0,"y":45,"y2":46.35},{"x":22.5,"y":45,"y2":51.5},{"x":23.0,"y":45,"y2":51.5},{"x":23.5,"y":45,"y2":58.0},{"x":24.0,"y":45,"y2":58.0}]},"mark":{"type":"rule","color":"#000","strokeWidth":2,"strokeDash":[2,2]},"encoding":{"x":{"field":"x","type":"quantitative"},"y":{"field":"y","type":"quantitative"},"y2":{"field":"y2"}}},
 {"data":{"values":[{"x":18.5,"y":45,"y2":45.95},{"x":19.0,"y":45,"y2":45.95},{"x":19.5,"y":45,"y2":46.8},{"x":20.0,"y":45,"y2":46.8},{"x":20.5,"y":45,"y2":48.73},{"x":21.0,"y":45,"y2":48.73}]},"mark":{"type":"rule","color":"#888888","strokeWidth":2,"strokeDash":[2,2]},"encoding":{"x":{"field":"x","type":"quantitative"},"y":{"field":"y","type":"quantitative"},"y2":{"field":"y2"}}},
 {"data":{"values":[{"x":15.79,"y":46.78,"t":"1% H₂"},{"x":16.8,"y":47.77,"t":"2% H₂"},{"x":17.8,"y":49.43,"t":"4% H₂"},{"x":18.73,"y":46.66,"t":"1% H₂"},{"x":19.76,"y":47.65,"t":"2% H₂"},{"x":20.86,"y":49.52,"t":"4% H₂"},{"x":21.9,"y":47.38,"t":"1% CO"},{"x":22.93,"y":52.69,"t":"5% CO"},{"x":24.27,"y":54.66,"t":"10% CO"},{"x":19.68,"y":53.2,"t":"5% O₂ background"},{"x":22.67,"y":73.76,"t":"475 nm"},{"x":22.64,"y":71.86,"t":"400°C"}]},"mark":{"type":"text","fontSize":15,"baseline":"middle"},"encoding":{"x":{"field":"x","type":"quantitative"},"y":{"field":"y","type":"quantitative"},"text":{"field":"t"}}},
 {"data":{"values":[{"x":19.27,"y":75.66,"t":"1% Al:ZnO Fiber"}]},"mark":{"type":"text","fontSize":16,"baseline":"middle"},"encoding":{"x":{"field":"x","type":"quantitative"},"y":{"field":"y","type":"quantitative"},"text":{"field":"t"}}},
 {"data":{"values":[{"x":15.83,"y":72.6,"t":"d)"}]},"mark":{"type":"text","fontSize":30,"baseline":"alphabetic"},"encoding":{"x":{"field":"x","type":"quantitative"},"y":{"field":"y","type":"quantitative"},"text":{"field":"t"}}}
]}
]
}
